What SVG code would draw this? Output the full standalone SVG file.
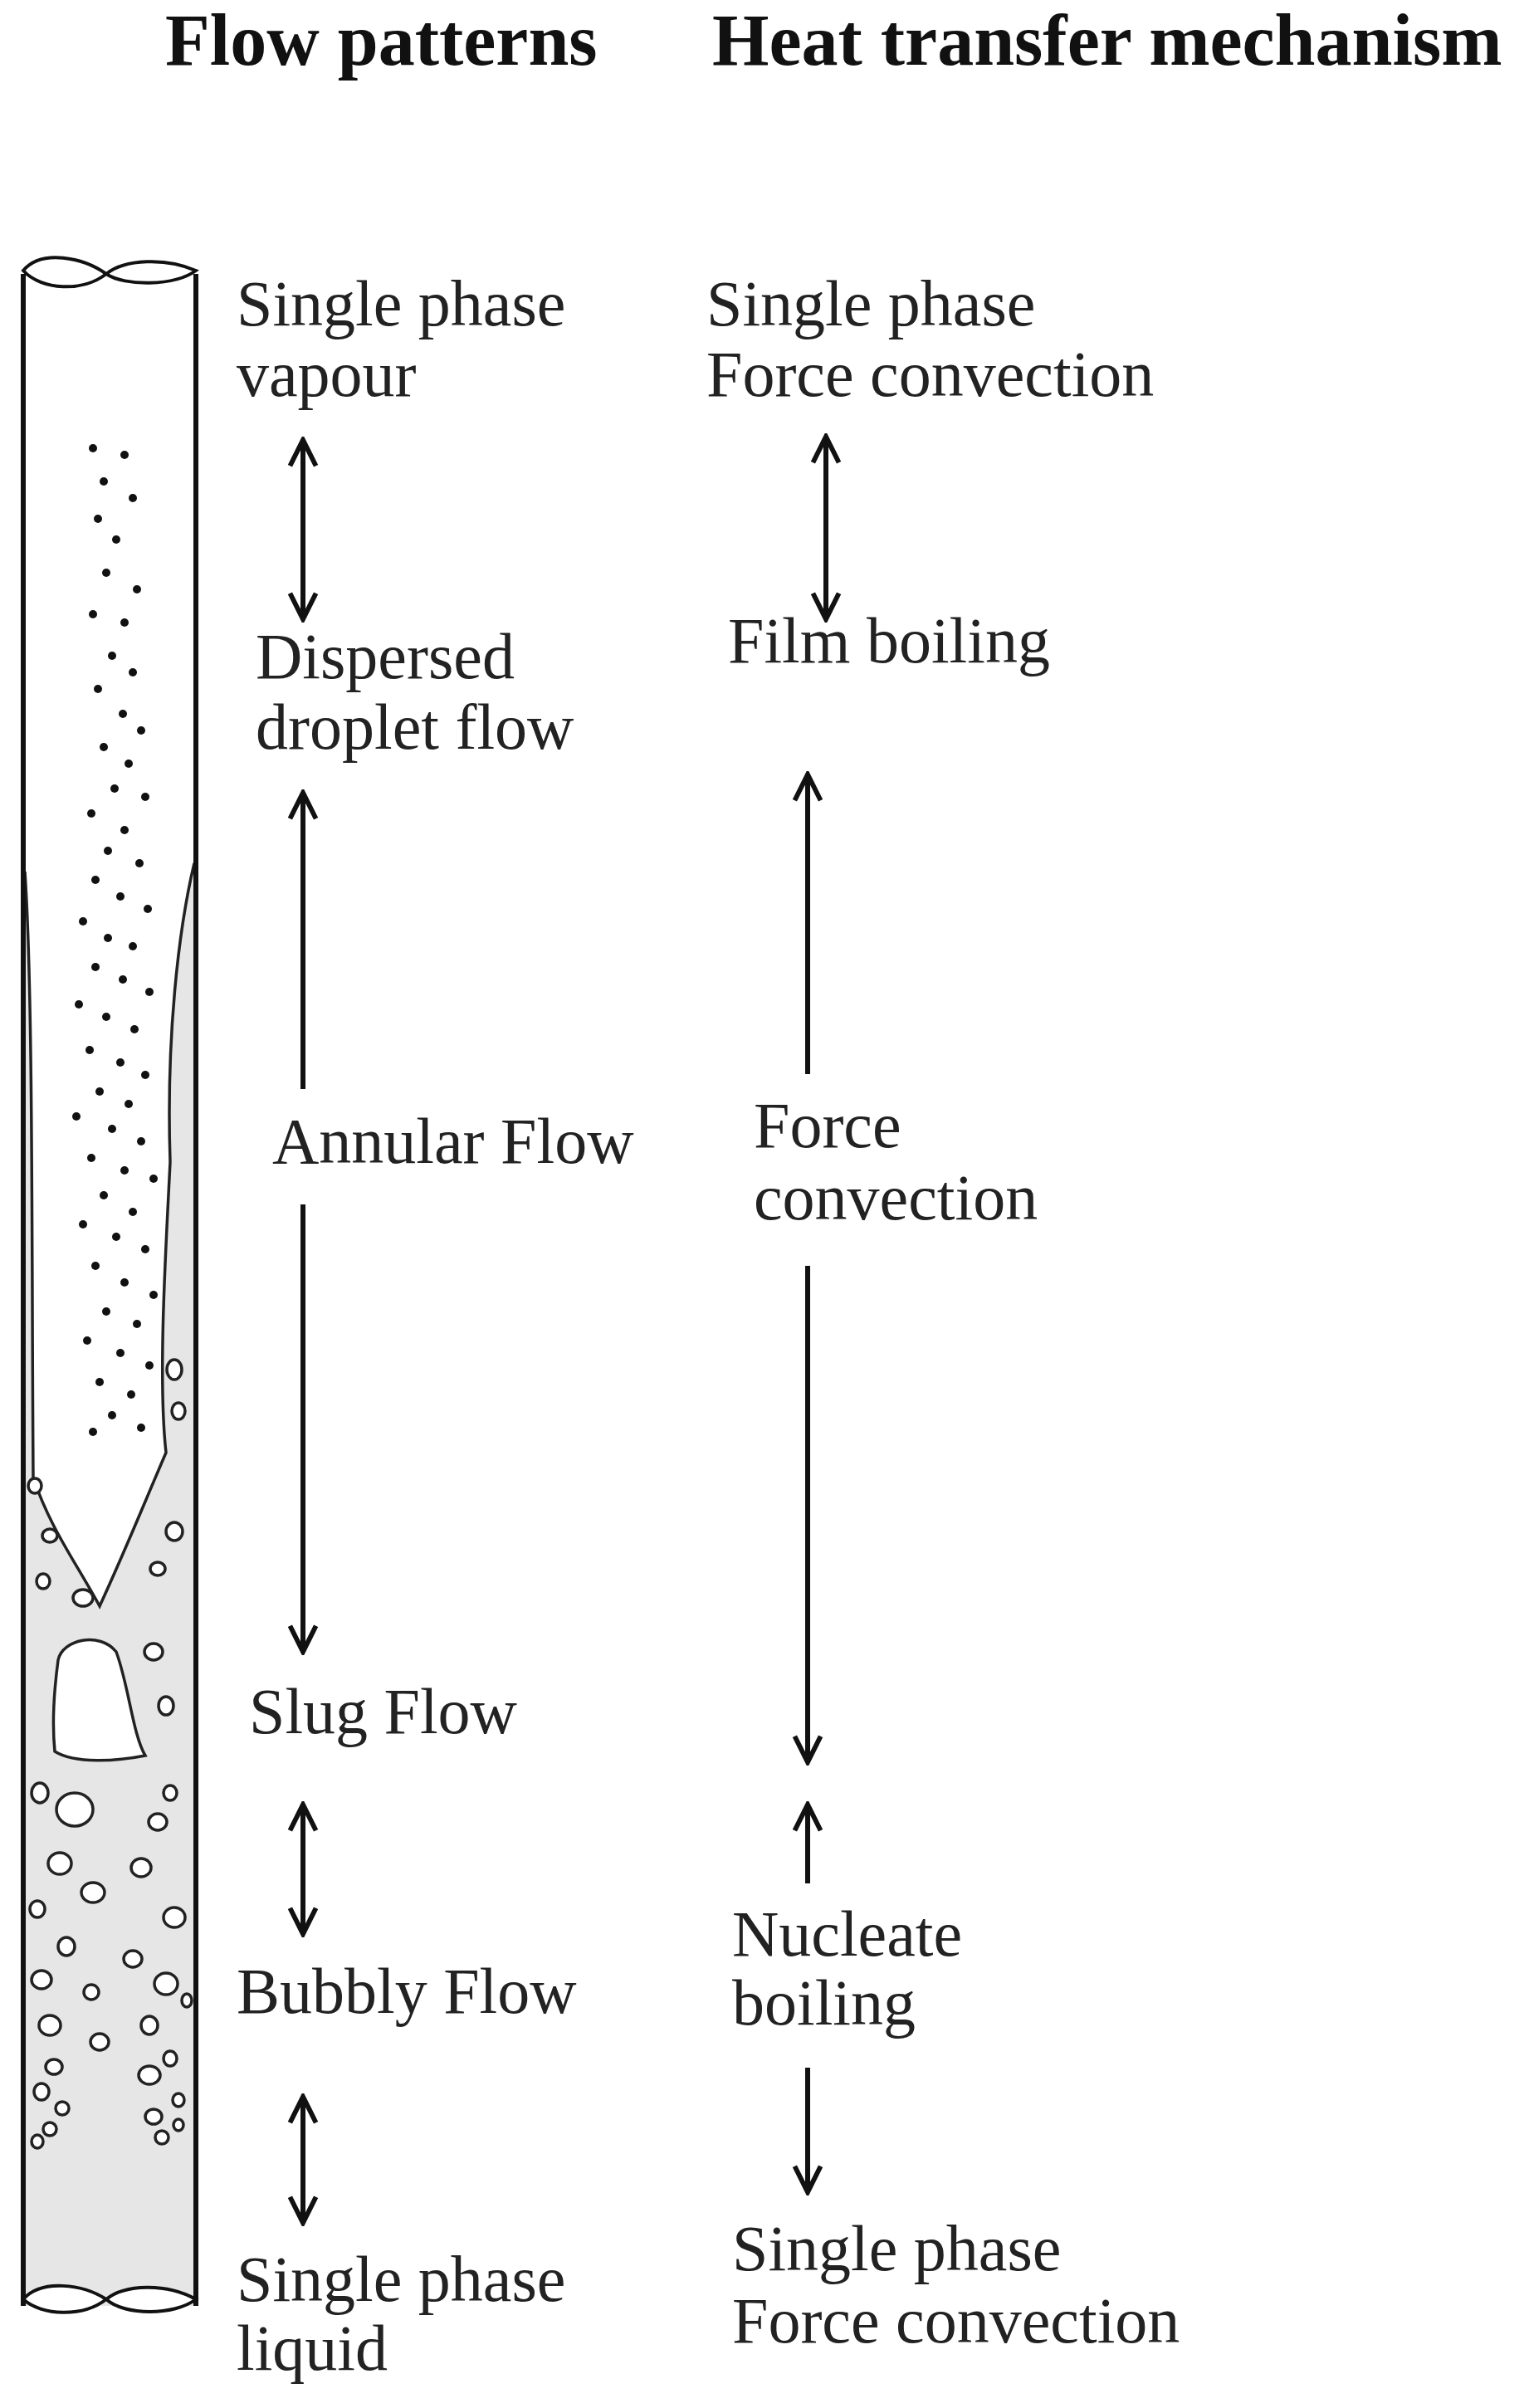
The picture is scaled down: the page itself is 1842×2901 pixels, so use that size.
<svg xmlns="http://www.w3.org/2000/svg" width="1842" height="2901" viewBox="0 0 1842 2901">
<style>
.t{font-family:"Liberation Serif","DejaVu Serif",serif;font-size:78px;fill:#222}
.h{font-family:"Liberation Serif","DejaVu Serif",serif;font-size:88px;font-weight:bold;fill:#111}
.a{stroke:#111;stroke-width:6;fill:none}
.d{fill:#111}
.b{fill:#fff;stroke:#222;stroke-width:3.5}
</style>
<defs>
<marker id="m" viewBox="0 0 20 20" refX="18" refY="10" markerWidth="6.5" markerHeight="6.5" orient="auto-start-reverse" markerUnits="strokeWidth">
<polyline points="2,2 18,10 2,18" fill="none" stroke="#111" stroke-width="3"/>
</marker>
</defs>
<rect width="1842" height="2901" fill="#fff"/>
<g id="titles">
<text class="h" x="199" y="78">Flow patterns</text>
<text class="h" x="858" y="78">Heat transfer mechanism</text>
</g>
<g id="tube">
<path d="M28,330 L28,2778 L236,2778 L236,330 Z" fill="#e6e6e6" stroke="none"/>
<path d="M30,330 L30,1050 C40,1200 38,1500 40,1780 C60,1840 90,1880 120,1935 C150,1870 170,1820 200,1750 C190,1660 200,1500 205,1400 C200,1250 215,1120 234,1040 L234,330 Z" fill="#fff"/>
<path d="M30,1050 C40,1200 38,1500 40,1780 C60,1840 90,1880 120,1935 C150,1870 170,1820 200,1750 C190,1660 200,1500 205,1400 C200,1250 215,1120 234,1040" class="b" fill="none"/>
<path d="M28,330 L28,2778 M236,330 L236,2778" stroke="#111" stroke-width="6"/>
<path d="M28,326 C50,300 100,310 128,330 C150,312 200,310 236,326 C210,345 150,345 128,330 C100,352 50,350 28,326 Z" fill="#fff" stroke="#111" stroke-width="4"/>
<path d="M28,2770 C50,2745 100,2752 128,2770 C150,2752 200,2750 236,2770 C210,2790 150,2790 128,2770 C100,2792 50,2790 28,2770 Z" fill="#fff" stroke="#111" stroke-width="4"/>
<path d="M70,2000 C75,1975 120,1965 140,1990 C155,2030 160,2090 175,2115 C140,2122 90,2125 66,2110 C62,2070 66,2030 70,2000 Z" class="b"/>
<g class="d">
<circle cx="112" cy="540" r="5"/><circle cx="150" cy="548" r="5"/><circle cx="125" cy="580" r="5"/><circle cx="160" cy="600" r="5"/><circle cx="118" cy="625" r="5"/>
<circle cx="140" cy="650" r="5"/><circle cx="128" cy="690" r="5"/><circle cx="165" cy="710" r="5"/><circle cx="112" cy="740" r="5"/><circle cx="150" cy="750" r="5"/>
<circle cx="135" cy="790" r="5"/><circle cx="160" cy="810" r="5"/><circle cx="118" cy="830" r="5"/><circle cx="148" cy="860" r="5"/><circle cx="170" cy="880" r="5"/>
<circle cx="125" cy="900" r="5"/><circle cx="155" cy="920" r="5"/><circle cx="138" cy="950" r="5"/><circle cx="175" cy="960" r="5"/><circle cx="110" cy="980" r="5"/>
<circle cx="150" cy="1000" r="5"/><circle cx="130" cy="1025" r="5"/><circle cx="168" cy="1040" r="5"/><circle cx="115" cy="1060" r="5"/><circle cx="145" cy="1080" r="5"/>
<circle cx="178" cy="1095" r="5"/><circle cx="100" cy="1110" r="5"/><circle cx="130" cy="1130" r="5"/><circle cx="160" cy="1140" r="5"/><circle cx="115" cy="1165" r="5"/>
<circle cx="148" cy="1180" r="5"/><circle cx="180" cy="1195" r="5"/><circle cx="95" cy="1210" r="5"/><circle cx="128" cy="1225" r="5"/><circle cx="162" cy="1240" r="5"/>
<circle cx="108" cy="1265" r="5"/><circle cx="145" cy="1280" r="5"/><circle cx="175" cy="1295" r="5"/><circle cx="120" cy="1315" r="5"/><circle cx="155" cy="1330" r="5"/>
<circle cx="92" cy="1345" r="5"/><circle cx="135" cy="1360" r="5"/><circle cx="170" cy="1375" r="5"/><circle cx="110" cy="1395" r="5"/><circle cx="150" cy="1410" r="5"/>
<circle cx="185" cy="1420" r="5"/><circle cx="125" cy="1440" r="5"/><circle cx="160" cy="1460" r="5"/><circle cx="100" cy="1475" r="5"/><circle cx="140" cy="1490" r="5"/>
<circle cx="175" cy="1505" r="5"/><circle cx="115" cy="1525" r="5"/><circle cx="150" cy="1545" r="5"/><circle cx="185" cy="1560" r="5"/><circle cx="128" cy="1580" r="5"/>
<circle cx="165" cy="1595" r="5"/><circle cx="105" cy="1615" r="5"/><circle cx="145" cy="1630" r="5"/><circle cx="180" cy="1645" r="5"/><circle cx="120" cy="1665" r="5"/>
<circle cx="158" cy="1680" r="5"/><circle cx="135" cy="1705" r="5"/><circle cx="170" cy="1720" r="5"/><circle cx="112" cy="1725" r="5"/>
</g>
<g>
<ellipse class="b" cx="210" cy="1650" rx="9" ry="12"/><ellipse class="b" cx="215" cy="1700" rx="8" ry="10"/><ellipse class="b" cx="42" cy="1790" rx="8" ry="9"/>
<ellipse class="b" cx="60" cy="1850" rx="9" ry="8"/><ellipse class="b" cx="210" cy="1845" rx="10" ry="11"/><ellipse class="b" cx="190" cy="1890" rx="9" ry="8"/>
<ellipse class="b" cx="52" cy="1905" rx="8" ry="9"/><ellipse class="b" cx="100" cy="1925" rx="12" ry="10"/><ellipse class="b" cx="185" cy="1990" rx="11" ry="10"/>
<ellipse class="b" cx="200" cy="2055" rx="9" ry="11"/><ellipse class="b" cx="48" cy="2160" rx="10" ry="12"/><ellipse class="b" cx="90" cy="2180" rx="22" ry="20"/>
<ellipse class="b" cx="205" cy="2160" rx="8" ry="9"/><ellipse class="b" cx="190" cy="2195" rx="11" ry="10"/><ellipse class="b" cx="72" cy="2245" rx="14" ry="13"/>
<ellipse class="b" cx="170" cy="2250" rx="12" ry="11"/><ellipse class="b" cx="112" cy="2280" rx="14" ry="12"/><ellipse class="b" cx="45" cy="2300" rx="9" ry="10"/>
<ellipse class="b" cx="210" cy="2310" rx="13" ry="12"/><ellipse class="b" cx="80" cy="2345" rx="10" ry="11"/><ellipse class="b" cx="160" cy="2360" rx="11" ry="10"/>
<ellipse class="b" cx="50" cy="2385" rx="12" ry="11"/><ellipse class="b" cx="200" cy="2390" rx="14" ry="13"/><ellipse class="b" cx="110" cy="2400" rx="9" ry="9"/>
<ellipse class="b" cx="60" cy="2440" rx="13" ry="12"/><ellipse class="b" cx="180" cy="2440" rx="10" ry="11"/><ellipse class="b" cx="225" cy="2410" rx="6" ry="8"/>
<ellipse class="b" cx="120" cy="2460" rx="11" ry="10"/><ellipse class="b" cx="65" cy="2490" rx="10" ry="9"/><ellipse class="b" cx="205" cy="2480" rx="8" ry="9"/>
<ellipse class="b" cx="180" cy="2500" rx="13" ry="11"/><ellipse class="b" cx="50" cy="2520" rx="9" ry="10"/><ellipse class="b" cx="215" cy="2530" rx="7" ry="8"/>
<ellipse class="b" cx="75" cy="2540" rx="8" ry="8"/><ellipse class="b" cx="185" cy="2550" rx="10" ry="9"/><ellipse class="b" cx="60" cy="2565" rx="8" ry="8"/>
<ellipse class="b" cx="195" cy="2575" rx="8" ry="8"/><ellipse class="b" cx="45" cy="2580" rx="7" ry="8"/><ellipse class="b" cx="215" cy="2560" rx="6" ry="7"/>
</g>
</g>
<g id="connectors">
<line class="a" x1="365" y1="530" x2="365" y2="746" marker-start="url(#m)" marker-end="url(#m)"/>
<line class="a" x1="365" y1="955" x2="365" y2="1312" marker-start="url(#m)"/>
<line class="a" x1="365" y1="1451" x2="365" y2="1990" marker-end="url(#m)"/>
<line class="a" x1="365" y1="2174" x2="365" y2="2330" marker-start="url(#m)" marker-end="url(#m)"/>
<line class="a" x1="365" y1="2526" x2="365" y2="2678" marker-start="url(#m)" marker-end="url(#m)"/>
<line class="a" x1="995" y1="526" x2="995" y2="746" marker-start="url(#m)" marker-end="url(#m)"/>
<line class="a" x1="973" y1="933" x2="973" y2="1294" marker-start="url(#m)"/>
<line class="a" x1="973" y1="1525" x2="973" y2="2123" marker-end="url(#m)"/>
<line class="a" x1="973" y1="2174" x2="973" y2="2269" marker-start="url(#m)"/>
<line class="a" x1="973" y1="2491" x2="973" y2="2641" marker-end="url(#m)"/>
</g>
<g id="left-labels">
<text class="t" x="285" y="392">Single phase</text>
<text class="t" x="285" y="477">vapour</text>
<text class="t" x="308" y="817">Dispersed</text>
<text class="t" x="308" y="902">droplet flow</text>
<text class="t" x="328" y="1401">Annular Flow</text>
<text class="t" x="300" y="2088">Slug Flow</text>
<text class="t" x="285" y="2425">Bubbly Flow</text>
<text class="t" x="285" y="2772">Single phase</text>
<text class="t" x="285" y="2855">liquid</text>
</g>
<g id="right-labels">
<text class="t" x="851" y="392">Single phase</text>
<text class="t" x="851" y="477">Force convection</text>
<text class="t" x="877" y="798">Film boiling</text>
<text class="t" x="908" y="1382">Force</text>
<text class="t" x="908" y="1469">convection</text>
<text class="t" x="882" y="2356">Nucleate</text>
<text class="t" x="882" y="2439">boiling</text>
<text class="t" x="882" y="2735">Single phase</text>
<text class="t" x="882" y="2822">Force convection</text>
</g>
</svg>
